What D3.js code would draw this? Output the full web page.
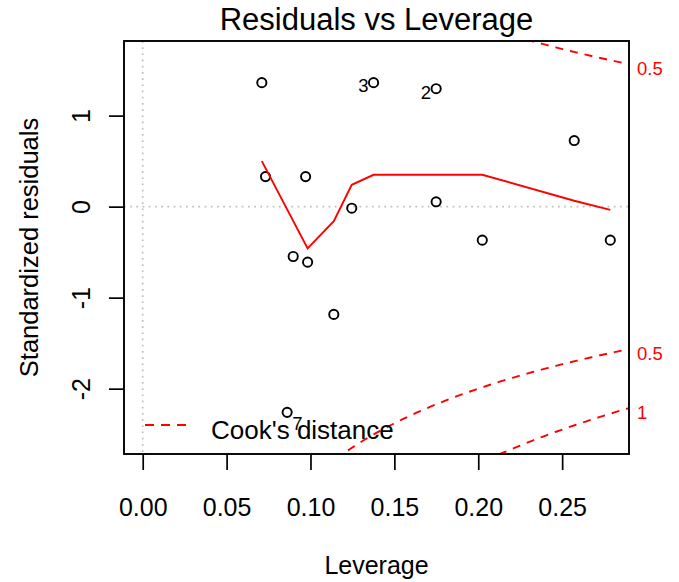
<!DOCTYPE html>
<html>
<head>
<meta charset="utf-8">
<script src="https://cdn.jsdelivr.net/npm/d3@7"></script>
<style>
  body { margin: 0; background: #fff; }
  text { font-family: "Liberation Sans", Arial, Helvetica, sans-serif; }
</style>
</head>
<body>
<svg id="chart" width="679" height="582"></svg>
<script>
// Observations (row number = position + 1)
const leverage = [0.0710, 0.1749, 0.1376, 0.2572, 0.0732, 0.0971, 0.0861,
                  0.1749, 0.1246, 0.2024, 0.2787, 0.0897, 0.0983, 0.1139];
const stdResid = [1.362, 1.296, 1.362, 0.726, 0.330, 0.330, -2.260,
                  0.053, -0.017, -0.368, -0.368, -0.548, -0.610, -1.184];
// Observations flagged with their row number
const flaggedObs = [3, 2, 7];

// Smoother through the residuals
const smoothX = [0.0710, 0.0983, 0.1139, 0.1246, 0.1376, 0.1749, 0.2024, 0.2572, 0.2787];
const smoothY = [0.50, -0.46, -0.16, 0.24, 0.35, 0.35, 0.35, 0.065, -0.035];

// Cook's distance contours
const cookLevels = [0.5, 1];
const modelRank = 2;

// Axis ticks
const xTicks = [0, 0.05, 0.10, 0.15, 0.20, 0.25];
const yTicks = [-2, -1, 0, 1];

const svg = d3.select("#chart");
const W = 679, H = 582;
const box = { left: 124, right: 629, top: 41, bottom: 454 };
const RED = "#FF0000";

svg.append("rect").attr("width", W).attr("height", H).attr("fill", "#fff");

// R-style axis limits: x from 0, y widened for labels, then 4% padding
function extend(lo, hi, f) { const d = (hi - lo) * f; return [lo - d, hi + d]; }
const xLim = extend(0, d3.max(leverage), 0.04);
const yBase = extend(d3.min(stdResid), d3.max(stdResid), 0.08);
const yLim = extend(yBase[0], yBase[1], 0.04);

const x = d3.scaleLinear().domain(xLim).range([box.left, box.right]);
const y = d3.scaleLinear().domain(yLim).range([box.bottom, box.top]);

// plain hyphen for negative numbers
const fmtInt = v => String(v);

svg.append("defs").append("clipPath").attr("id", "plotClip")
  .append("rect")
  .attr("x", box.left).attr("y", box.top)
  .attr("width", box.right - box.left).attr("height", box.bottom - box.top);

const plot = svg.append("g").attr("clip-path", "url(#plotClip)");

// Reference lines at zero
plot.append("line")
  .attr("x1", x(0)).attr("x2", x(0)).attr("y1", box.top).attr("y2", box.bottom)
  .attr("stroke", "#BEBEBE").attr("stroke-width", 1.7).attr("stroke-dasharray", "1.7,4.5");
plot.append("line")
  .attr("x1", box.left).attr("x2", box.right).attr("y1", y(0)).attr("y2", y(0))
  .attr("stroke", "#BEBEBE").attr("stroke-width", 1.7).attr("stroke-dasharray", "1.7,4.5");

// Points
plot.selectAll("circle.pt")
  .data(leverage.map((h, i) => ({ h, r: stdResid[i] })))
  .join("circle")
  .attr("class", "pt")
  .attr("cx", d => x(d.h)).attr("cy", d => y(d.r))
  .attr("r", 4.6)
  .attr("fill", "none").attr("stroke", "#000").attr("stroke-width", 1.9);

// Smoother
plot.append("path")
  .datum(smoothX.map((h, i) => [h, smoothY[i]]))
  .attr("d", d3.line().x(d => x(d[0])).y(d => y(d[1])))
  .attr("fill", "none").attr("stroke", RED).attr("stroke-width", 1.9);

// Cook's distance contours at each level, above and below zero
const hStart = Math.min(d3.min(leverage), d3.max(leverage) / 100);
const hGrid = d3.range(101).map(k => hStart + (xLim[1] - hStart) * k / 100);
cookLevels.forEach(level => {
  [1, -1].forEach(sign => {
    plot.append("path")
      .datum(hGrid.map(h => [h, sign * Math.sqrt(level * modelRank * (1 - h) / h)]))
      .attr("d", d3.line().x(d => x(d[0])).y(d => y(d[1])))
      .attr("fill", "none").attr("stroke", RED).attr("stroke-width", 1.9)
      .attr("stroke-dasharray", "8,7");
  });
});

// Row-number labels for flagged observations (side chosen as in R's text.id)
const flagX = flaggedObs.map(k => leverage[k - 1]);
const flagMid = (d3.min(flagX) + d3.max(flagX)) / 2;
const labelDrop = { 3: 9, 2: 10, 7: 18 };
flaggedObs.forEach(k => {
  const h = leverage[k - 1], r = stdResid[k - 1];
  const left = h > flagMid;
  svg.append("text")
    .attr("x", x(h) + (left ? -5 : 5))
    .attr("y", y(r) + labelDrop[k])
    .attr("text-anchor", left ? "end" : "start")
    .attr("font-size", 18.5)
    .attr("fill", "#000")
    .text(String(k));
});

// Legend
svg.append("line")
  .attr("x1", 145).attr("x2", 190).attr("y1", 425).attr("y2", 425)
  .attr("stroke", RED).attr("stroke-width", 1.9).attr("stroke-dasharray", "9,7");
svg.append("text")
  .attr("x", 211).attr("y", 439)
  .attr("font-size", 26).attr("fill", "#000")
  .text("Cook's distance");

// Plot frame
svg.append("rect")
  .attr("x", box.left).attr("y", box.top)
  .attr("width", box.right - box.left).attr("height", box.bottom - box.top)
  .attr("fill", "none").attr("stroke", "#000").attr("stroke-width", 1.9);

// Bottom axis
const xAxis = svg.append("g").attr("transform", `translate(0,${box.bottom})`)
  .call(d3.axisBottom(x).tickValues(xTicks).tickFormat(d3.format(".2f"))
    .tickSizeInner(16).tickSizeOuter(0).tickPadding(28));
xAxis.select(".domain").remove();
xAxis.selectAll("line").attr("stroke", "#000").attr("stroke-width", 1.7);
xAxis.selectAll("text").attr("font-size", 25).attr("fill", "#000")
  .attr("font-family", "Liberation Sans, Arial, sans-serif");

// Left axis with labels parallel to the axis
const yAxis = svg.append("g").attr("transform", `translate(${box.left},0)`)
  .call(d3.axisLeft(y).tickValues(yTicks).tickFormat(fmtInt)
    .tickSizeInner(15).tickSizeOuter(0));
yAxis.select(".domain").remove();
yAxis.selectAll("line").attr("stroke", "#000").attr("stroke-width", 1.7);
yAxis.selectAll("text")
  .attr("font-size", 25).attr("fill", "#000")
  .attr("font-family", "Liberation Sans, Arial, sans-serif")
  .attr("x", null).attr("dy", null)
  .attr("text-anchor", "middle")
  .attr("transform", "translate(-34,0) rotate(-90)");

// Right-hand Cook's distance level labels
const edgeH = Math.min(0.99, xLim[1]);
const ymult = Math.sqrt(modelRank * (1 - edgeH) / edgeH);
const cookMarks = [];
cookLevels.forEach(level => {
  cookMarks.push({ v: Math.sqrt(level) * ymult, label: String(level) });
  cookMarks.push({ v: -Math.sqrt(level) * ymult, label: String(level) });
});
cookMarks.filter(d => d.v >= yLim[0] && d.v <= yLim[1]).forEach(d => {
  svg.append("text")
    .attr("x", box.right + 8)
    .attr("y", y(d.v) + 10.5)
    .attr("font-size", 18.5).attr("fill", RED)
    .text(d.label);
});

// Titles
svg.append("text")
  .attr("x", (box.left + box.right) / 2).attr("y", 30)
  .attr("text-anchor", "middle").attr("font-size", 31).attr("fill", "#000")
  .text("Residuals vs Leverage");
svg.append("text")
  .attr("x", (box.left + box.right) / 2).attr("y", 574)
  .attr("text-anchor", "middle").attr("font-size", 25).attr("fill", "#000")
  .text("Leverage");
svg.append("text")
  .attr("transform", `translate(38,${(box.top + box.bottom) / 2}) rotate(-90)`)
  .attr("text-anchor", "middle").attr("font-size", 25.5).attr("fill", "#000")
  .text("Standardized residuals");
</script>
</body>
</html>
